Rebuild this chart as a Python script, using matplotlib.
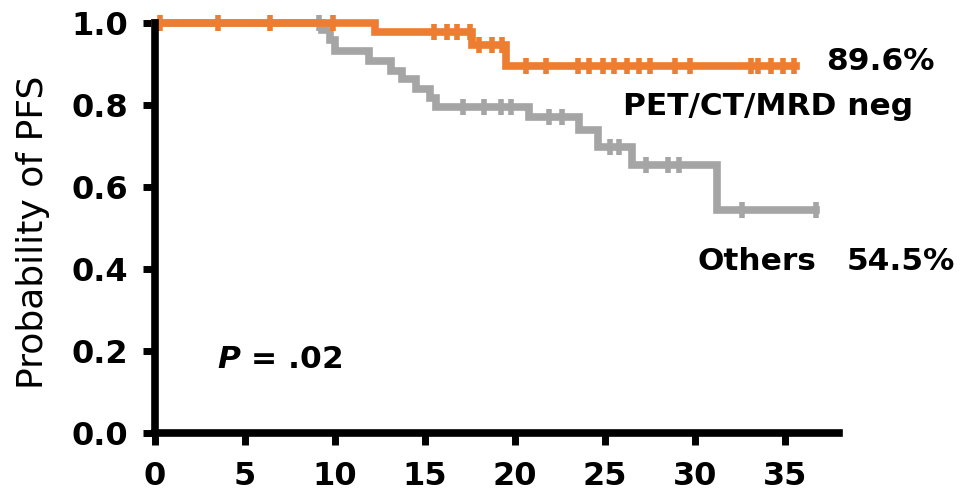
import numpy as np
import matplotlib
matplotlib.use('Agg')
import matplotlib.pyplot as plt

plt.rcParams['font.family'] = ['DejaVu Sans']

# Kaplan-Meier step data (months, survival)
neg_time = [0, 12.2, 17.6, 19.5, 35.6]
neg_surv = [1.0, 0.979, 0.946, 0.896, 0.896]
neg_cens = [0.3, 3.5, 6.4, 9.9, 15.5, 16.2, 16.8, 17.5, 18.0, 18.7, 19.3,
            20.6, 21.7, 23.5, 24.1, 24.9, 25.5, 26.2, 26.9, 27.5, 28.9,
            29.7, 33.1, 33.5, 34.2, 34.9, 35.5]

oth_time = [0, 9.3, 9.7, 10.0, 11.9, 13.1, 13.7, 14.5, 15.3, 15.6, 20.8,
            23.55, 24.6, 26.5, 31.2, 36.7]
oth_surv = [1.0, 0.982, 0.958, 0.932, 0.908, 0.884, 0.864, 0.84, 0.818,
            0.796, 0.77, 0.739, 0.698, 0.654, 0.545, 0.545]
oth_cens = [9.1, 17.1, 18.3, 19.2, 19.8, 21.9, 22.6, 25.3, 25.8, 27.3,
            28.5, 29.1, 32.6, 36.7]

x_ticks = [0, 5, 10, 15, 20, 25, 30, 35]
y_ticks = [0.0, 0.2, 0.4, 0.6, 0.8, 1.0]

orange = '#ED7D31'
gray = '#A5A5A5'


def surv_at(times, surv, t):
    idx = np.searchsorted(times, t, side='right') - 1
    return np.array(surv)[idx]


fig = plt.figure(figsize=(9.62, 4.91), dpi=100)
ax = fig.add_axes([0.1611, 0.1181, 0.7110, 0.8351])

for times, surv, cens, col in [(oth_time, oth_surv, oth_cens, gray),
                               (neg_time, neg_surv, neg_cens, orange)]:
    ax.step(times, surv, where='post', color=col, lw=5.5, clip_on=False,
            solid_joinstyle='miter')
    ax.plot(cens, surv_at(times, surv, cens), ls='none', marker='|',
            ms=11, mew=4, color=col, clip_on=False)

ax.set_xlim(0, 38)
ax.set_ylim(0, 1.0)
ax.set_xticks(x_ticks)
ax.set_yticks(y_ticks)
ax.set_yticklabels([f'{v:.1f}' for v in y_ticks])

for side in ['top', 'right']:
    ax.spines[side].set_visible(False)
for side in ['left', 'bottom']:
    ax.spines[side].set_linewidth(5.5)
    ax.spines[side].set_capstyle('projecting')

ax.tick_params(axis='both', direction='out', length=8.5, width=5,
               labelsize=23)
ax.tick_params(axis='x', pad=12)
ax.tick_params(axis='y', pad=11)
for lab in ax.get_xticklabels() + ax.get_yticklabels():
    lab.set_fontweight('bold')

ax.set_ylabel('Probability of PFS', fontsize=26)
ax.yaxis.set_label_coords(-0.179, 0.49)
ax.yaxis.label.set_verticalalignment('center')

txt = dict(fontsize=22.5, fontweight='bold', clip_on=False, va='baseline')
ax.text(37.3, 0.885, '89.6%', **txt)
ax.text(26.0, 0.776, 'PET/CT/MRD neg', **txt)
ax.text(30.15, 0.397, 'Others', **txt)
ax.text(38.45, 0.397, '54.5%', **txt)
ax.text(3.45, 0.159, '$\\bfit{P}$ = .02', **txt)

fig.savefig('out.png', dpi=100)
